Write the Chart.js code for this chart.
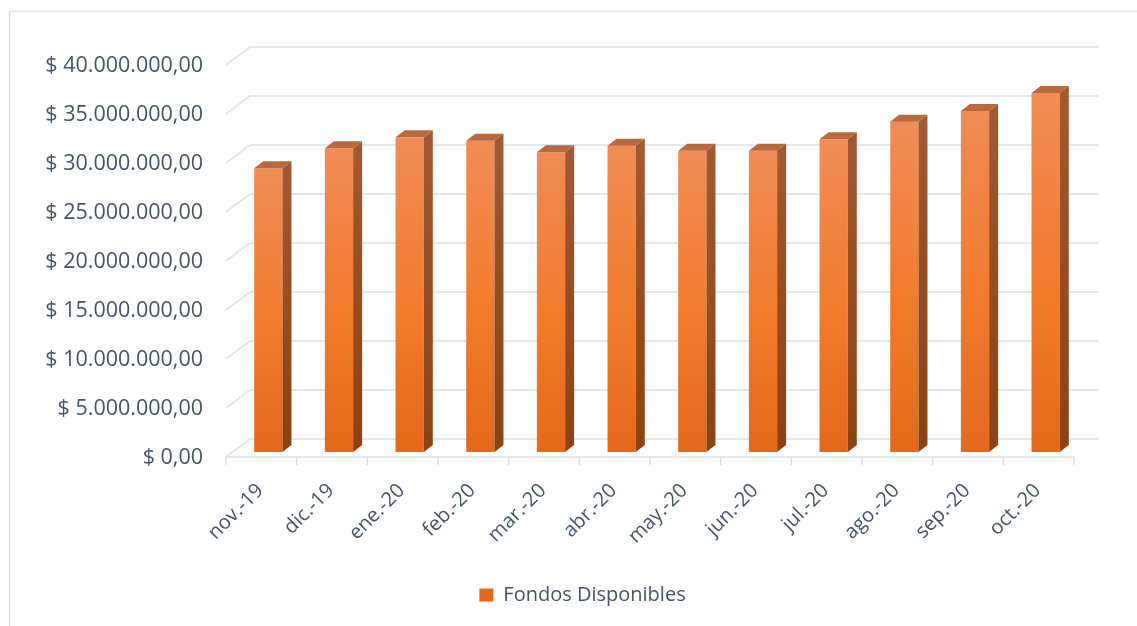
<!DOCTYPE html>
<html lang="es">
<head>
<meta charset="utf-8">
<title>Fondos Disponibles</title>
<script src="https://cdn.jsdelivr.net/npm/chart.js@4.4.1/dist/chart.umd.min.js"></script>
<style>
  html, body { margin: 0; padding: 0; background: #fff; }
  #wrap { position: relative; width: 1137px; height: 626px; }
</style>
</head>
<body>
<div id="wrap"><canvas id="fondosChart"></canvas></div>
<script>
const months = ['nov.-19', 'dic.-19', 'ene.-20', 'feb.-20', 'mar.-20', 'abr.-20',
                'may.-20', 'jun.-20', 'jul.-20', 'ago.-20', 'sep.-20', 'oct.-20'];
const fondos = [28950000, 30990000, 32110000, 31770000, 30580000, 31260000,
                30740000, 30740000, 31910000, 33700000, 34800000, 36630000];
const yTicks = [0, 5000000, 10000000, 15000000, 20000000, 25000000, 30000000, 35000000, 40000000];
const yTickLabels = ['$ 0,00', '$ 5.000.000,00', '$ 10.000.000,00', '$ 15.000.000,00',
                     '$ 20.000.000,00', '$ 25.000.000,00', '$ 30.000.000,00',
                     '$ 35.000.000,00', '$ 40.000.000,00'];

const textColor = '#44546A';
const gridColor = '#DCE0E6';
const fontFamily = '"Open Sans", "Liberation Sans", sans-serif';

// offsets of the fake 3D box (pixels)
const BACK_DX = 17, BACK_DY = 13;   // bar front plane -> back wall
const WALL_DX = 24, WALL_DY = 18;   // back wall -> front edge of the floor
const BAR_DX = 9, BAR_DY = 7;       // depth of each bar
const LEGEND_SHIFT = 42;            // legend sits right of the centre

const frontFill = (c) => {
    if (c.type !== 'data' || !c.chart.chartArea) return '#EF7F3A';
    const ys = c.chart.scales.y;
    const top = ys.getPixelForValue(fondos[c.dataIndex]);
    const bottom = ys.getPixelForValue(0);
    const g = c.chart.ctx.createLinearGradient(0, top, 0, bottom);
    g.addColorStop(0, '#F08C55');
    g.addColorStop(0.55, '#F17B2C');
    g.addColorStop(1, '#E4681C');
    return g;
};

const framePlugin = {
    id: 'frame',
    afterLayout: (chart) => {
        if (chart.legend) {
            chart.legend.left += LEGEND_SHIFT;
            chart.legend.right += LEGEND_SHIFT;
        }
    },
    beforeDraw: (chart) => {
        const ctx = chart.ctx;
        ctx.save();
        ctx.strokeStyle = '#DDE1E6';
        ctx.lineWidth = 1.5;
        ctx.beginPath();
        ctx.moveTo(9.5, chart.height);
        ctx.lineTo(9.5, 11.5);
        ctx.lineTo(chart.width, 11.5);
        ctx.stroke();
        ctx.restore();
    }
};

const boxPlugin = {
    id: 'box3d',
    beforeDatasetsDraw: (chart) => {
        const { ctx, chartArea, scales: { y } } = chart;
        const backL = chartArea.left + BACK_DX;
        const backR = chartArea.right + BACK_DX;
        ctx.save();
        ctx.strokeStyle = gridColor;
        ctx.lineWidth = 1.5;
        ctx.beginPath();
        yTicks.forEach(v => {
            const yb = y.getPixelForValue(v) - BACK_DY;
            ctx.moveTo(backL - WALL_DX, yb + WALL_DY);
            ctx.lineTo(backL, yb);
            ctx.lineTo(backR, yb);
        });
        // front edge of the floor with category ticks
        const yf = y.getPixelForValue(0) - BACK_DY + WALL_DY;
        const step = chartArea.width / months.length;
        ctx.moveTo(backL - WALL_DX, yf);
        ctx.lineTo(backR - WALL_DX, yf);
        for (let i = 0; i <= months.length; i++) {
            const xt = backL - WALL_DX + i * step;
            ctx.moveTo(xt, yf);
            ctx.lineTo(xt, yf + 8);
        }
        ctx.stroke();
        ctx.restore();
    },
    afterDatasetsDraw: (chart) => {
        const ctx = chart.ctx;
        const meta = chart.getDatasetMeta(0);
        ctx.save();
        meta.data.forEach(bar => {
            const x1 = bar.x - bar.width / 2;
            const x2 = bar.x + bar.width / 2;
            const top = bar.y;
            const base = bar.base;

            const side = ctx.createLinearGradient(0, top, 0, base);
            side.addColorStop(0, '#A25832');
            side.addColorStop(1, '#8B4210');
            ctx.fillStyle = side;
            ctx.beginPath();
            ctx.moveTo(x2, top);
            ctx.lineTo(x2 + BAR_DX, top - BAR_DY);
            ctx.lineTo(x2 + BAR_DX, base - BAR_DY);
            ctx.lineTo(x2, base);
            ctx.closePath();
            ctx.fill();

            ctx.fillStyle = '#BA683C';
            ctx.beginPath();
            ctx.moveTo(x1, top);
            ctx.lineTo(x1 + BAR_DX, top - BAR_DY);
            ctx.lineTo(x2 + BAR_DX, top - BAR_DY);
            ctx.lineTo(x2, top);
            ctx.closePath();
            ctx.fill();
        });
        ctx.restore();
    }
};

new Chart(document.getElementById('fondosChart'), {
    type: 'bar',
    data: {
        labels: months,
        datasets: [{
            label: 'Fondos Disponibles',
            data: fondos,
            backgroundColor: frontFill,
            borderWidth: 0,
            categoryPercentage: 1,
            barPercentage: 0.4
        }]
    },
    options: {
        responsive: true,
        maintainAspectRatio: false,
        animation: false,
        layout: { padding: { top: 60, right: 56, bottom: 11, left: 0 } },
        scales: {
            x: {
                grid: { display: false, drawTicks: false },
                border: { display: false },
                afterFit: (s) => { s.height = 123; },
                ticks: {
                    autoSkip: false,
                    minRotation: 45,
                    maxRotation: 45,
                    padding: 27,
                    labelOffset: -8,
                    color: textColor,
                    font: { family: fontFamily, size: 20 }
                }
            },
            y: {
                min: 0,
                max: 40000000,
                afterBuildTicks: (s) => { s.ticks = yTicks.map(v => ({ value: v })); },
                afterFit: (s) => { s.width = 233; },
                grid: { display: false, drawTicks: false },
                border: { display: false },
                ticks: {
                    padding: 30,
                    labelOffset: 6,
                    color: textColor,
                    font: { family: fontFamily, size: 21.5 },
                    callback: (v, i) => yTickLabels[i]
                }
            }
        },
        plugins: {
            legend: {
                position: 'bottom',
                labels: {
                    boxWidth: 14,
                    boxHeight: 13,
                    color: textColor,
                    font: { family: fontFamily, size: 20 }
                }
            },
            tooltip: { enabled: false }
        }
    },
    plugins: [framePlugin, boxPlugin]
});
</script>
</body>
</html>
